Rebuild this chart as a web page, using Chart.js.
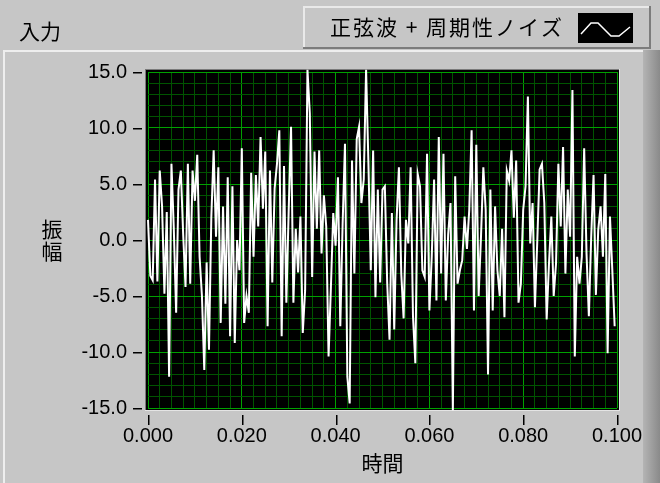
<!DOCTYPE html>
<html>
<head>
<meta charset="utf-8">
<style>
  html, body { margin: 0; padding: 0; background: #c6c6c6; }
  canvas { display: block; }
</style>
<script src="https://cdn.jsdelivr.net/npm/chart.js@4.4.1/dist/chart.umd.min.js"></script>
</head>
<body>
<canvas id="graph" width="660" height="483"></canvas>
<script>
// Waveform graph: sine wave with periodic noise, 0 .. 0.1 s
const GRAPH_LABEL = '入力';
const PLOT_NAME = '正弦波 + 周期性ノイズ';
const X_TITLE = '時間';
const Y_TITLE = '振幅';

// waveform timing (t0, dt) and sampled amplitude
const T0 = 0;
const DT = 0.0005;
const amplitude = [
  1.8, -3.2, -3.6, 5.4, -3.7, 6.2, 3.0, -4.8, 2.5, -12.2,
  6.8, 1.0, -6.5, 4.5, 6.2, 0.5, -4.2, 6.8, -3.9, 6.2,
  3.5, 7.6, -1.5, -5.0, -11.6, -2.0, -9.8, 2.0, 8.0, 0.3,
  6.5, -7.4, 3.0, -5.7, 5.6, -8.6, 4.8, -9.2, 0.0, -2.7,
  8.2, -7.4, -5.0, -6.5, 6.0, -1.5, 5.8, 1.2, 9.2, 2.8,
  7.9, -7.7, 6.2, -3.8, 4.6, 6.8, 9.8, -8.6, 6.6, -5.6,
  2.7, 10.1, -5.6, 1.0, -2.9, 2.1, -8.3, -4.5, 15.2, 11.3,
  -3.3, 7.9, 1.0, 8.0, -1.2, 4.0, 1.2, -10.4, -4.2, 2.4,
  -0.5, 5.6, -7.7, 1.5, 8.6, -12.2, -14.6, 7.1, -3.0, 9.0,
  10.1, 3.3, 5.4, 15.2, 6.8, -2.7, 8.0, -5.1, 4.5, -3.8,
  4.5, 4.8, -3.8, -8.9, 2.4, -8.0, 1.8, 6.5, -3.0, -7.0,
  1.8, -0.3, 6.5, -6.8, -11.0, 5.9, 4.8, -2.7, -3.3, 7.7,
  -6.3, -1.5, 5.4, -5.4, 9.2, -3.0, 7.7, -5.4, 0.5, 3.3,
  -15.2, 5.7, -3.9, -2.7, -1.8, 2.1, -0.8, 2.7, 9.8, -6.3,
  8.5, -5.0, 0.3, 6.5, 2.7, -12.0, 4.5, -6.3, 3.0, -2.7,
  -5.0, 1.0, -6.9, 6.2, 5.3, 8.0, 2.0, 7.1, -5.6, -3.9,
  2.7, 4.8, 12.8, -0.3, 3.3, -6.0, -0.1, 6.3, 6.8, 3.3,
  -7.1, -2.1, 2.1, -5.0, -2.1, 6.8, 1.2, 8.3, -3.0, 4.5,
  0.3, 13.4, -10.4, -1.5, -3.9, -1.5, 8.2, -1.2, -6.8, 0.3,
  5.8, -4.9, 0.9, 3.0, -1.5, 5.9, -10.1, 2.1, -2.7, -7.7
];

// axis ranges, labelled (major) ticks and grid subdivisions
const X_MIN = 0, X_MAX = 0.1;
const Y_MIN = -15, Y_MAX = 15;
const xMajorTicks = [0, 0.02, 0.04, 0.06, 0.08, 0.1];
const yMajorTicks = [-15, -10, -5, 0, 5, 10, 15];
const X_MINOR_STEP = 0.0025;
const Y_MINOR_STEP = 1;

const BG = '#c6c6c6';
const PLOT_BG = '#000000';
const GRID_MAJOR = '#00a000';
const GRID_MINOR = '#005400';
const TRACE = '#ffffff';
const TICK_FONT = { family: '"Liberation Sans", Arial, sans-serif', size: 20 };
const JP_FONT = '"Noto Sans CJK JP", "Noto Sans", sans-serif';

const points = amplitude.map((v, i) => ({ x: T0 + i * DT, y: v }));

const isOn = (list, v) => list.some(m => Math.abs(m - v) < 1e-9);

// panel, frame, legend and plot background behind the chart
const panelPlugin = {
  id: 'panel',
  beforeDraw(chart) {
    const ctx = chart.ctx;
    const a = chart.chartArea;
    ctx.save();
    ctx.fillStyle = BG;
    ctx.fillRect(0, 0, chart.width, chart.height);

    // graph frame
    ctx.fillStyle = '#eeeeee';
    ctx.fillRect(3, 50, 642, 2);
    ctx.fillRect(3, 50, 2, chart.height - 50);
    const g = ctx.createLinearGradient(643, 0, 660, 0);
    g.addColorStop(0, '#b4b4b4');
    g.addColorStop(1, '#8a8a8a');
    ctx.fillStyle = g;
    ctx.fillRect(643, 50, 17, chart.height - 50);

    // graph label
    ctx.fillStyle = '#000000';
    ctx.font = '21px ' + JP_FONT;
    ctx.textBaseline = 'middle';
    ctx.textAlign = 'left';
    ctx.fillText(GRAPH_LABEL, 19, 31);

    // plot legend box
    ctx.fillStyle = '#e9e9e9';
    ctx.fillRect(303, 6, 348, 2);
    ctx.fillRect(303, 6, 2, 43);
    ctx.fillStyle = '#7c7c7c';
    ctx.fillRect(303, 47, 348, 2);
    ctx.fillRect(649, 6, 2, 43);
    ctx.fillStyle = '#000000';
    ctx.font = '21px ' + JP_FONT;
    ctx.letterSpacing = '2px';
    ctx.fillText(PLOT_NAME, 330, 27);
    ctx.letterSpacing = '0px';
    // legend swatch with trace icon
    ctx.fillStyle = '#000000';
    ctx.fillRect(578, 13, 55, 30);
    ctx.strokeStyle = TRACE;
    ctx.lineWidth = 1.5;
    ctx.beginPath();
    ctx.moveTo(581, 34);
    ctx.lineTo(591, 23);
    ctx.lineTo(598, 23);
    ctx.lineTo(611, 36);
    ctx.lineTo(619, 36);
    ctx.lineTo(630, 27);
    ctx.stroke();

    // plot area with inset border
    ctx.fillStyle = PLOT_BG;
    ctx.fillRect(a.left - 2, a.top - 2, a.width + 4, a.height + 4);
    ctx.fillStyle = '#7a7a7a';
    ctx.fillRect(a.left - 3, a.top - 3, a.width + 6, 1);
    ctx.fillRect(a.left - 3, a.top - 3, 1, a.height + 6);
    ctx.fillStyle = '#e4e4e4';
    ctx.fillRect(a.left - 3, a.bottom + 2, a.width + 6, 1);
    ctx.fillRect(a.right + 2, a.top - 3, 1, a.height + 6);

    // major tick marks outside the plot
    const xs = chart.scales.x, ys = chart.scales.y;
    ctx.fillStyle = '#000000';
    yMajorTicks.forEach(v => {
      const y = Math.round(ys.getPixelForValue(v));
      ctx.fillRect(a.left - 15, y, 9, 1.5);
    });
    xMajorTicks.forEach(v => {
      const x = Math.round(xs.getPixelForValue(v));
      ctx.fillRect(x, a.bottom + 7, 1.5, 10);
    });

    // vertical axis name
    ctx.fillStyle = '#000000';
    ctx.font = '21px ' + JP_FONT;
    ctx.textAlign = 'center';
    ctx.textBaseline = 'middle';
    const chars = Array.from(Y_TITLE);
    chars.forEach((ch, k) => {
      ctx.fillText(ch, 52, (a.top + a.bottom) / 2 + (k - (chars.length - 1) / 2) * 22);
    });
    ctx.restore();
  }
};

new Chart(document.getElementById('graph'), {
  type: 'line',
  data: {
    datasets: [{
      label: PLOT_NAME,
      data: points,
      borderColor: TRACE,
      borderWidth: 2,
      pointRadius: 0,
      tension: 0,
      clip: { left: 2, right: 2, top: 3, bottom: 3 }
    }]
  },
  options: {
    responsive: false,
    devicePixelRatio: 1,
    animation: false,
    events: [],
    layout: { padding: { left: 0, top: 72, right: 43, bottom: 0 } },
    plugins: { legend: { display: false }, tooltip: { enabled: false }, title: { display: false } },
    scales: {
      x: {
        type: 'linear',
        min: X_MIN,
        max: X_MAX,
        afterFit(s) { s.height = 75; },
        border: { display: false },
        grid: {
          drawTicks: false,
          lineWidth: 1,
          color: c => isOn(xMajorTicks, c.tick.value) ? GRID_MAJOR : GRID_MINOR
        },
        ticks: {
          stepSize: X_MINOR_STEP,
          autoSkip: false,
          maxRotation: 0,
          padding: 16,
          color: '#000000',
          font: TICK_FONT,
          callback: v => isOn(xMajorTicks, v) ? v.toFixed(3) : ''
        },
        title: {
          display: true,
          text: X_TITLE,
          color: '#000000',
          font: { family: JP_FONT, size: 21 },
          padding: { top: 0, bottom: 7 }
        }
      },
      y: {
        type: 'linear',
        min: Y_MIN,
        max: Y_MAX,
        afterFit(s) { s.width = 148; },
        border: { display: false },
        grid: {
          drawTicks: false,
          lineWidth: 1,
          color: c => isOn(yMajorTicks, c.tick.value) ? GRID_MAJOR : GRID_MINOR
        },
        ticks: {
          stepSize: Y_MINOR_STEP,
          autoSkip: false,
          padding: 21,
          color: '#000000',
          font: TICK_FONT,
          callback: v => isOn(yMajorTicks, v) ? v.toFixed(1) : ''
        }
      }
    }
  },
  plugins: [panelPlugin]
});
</script>
</body>
</html>
